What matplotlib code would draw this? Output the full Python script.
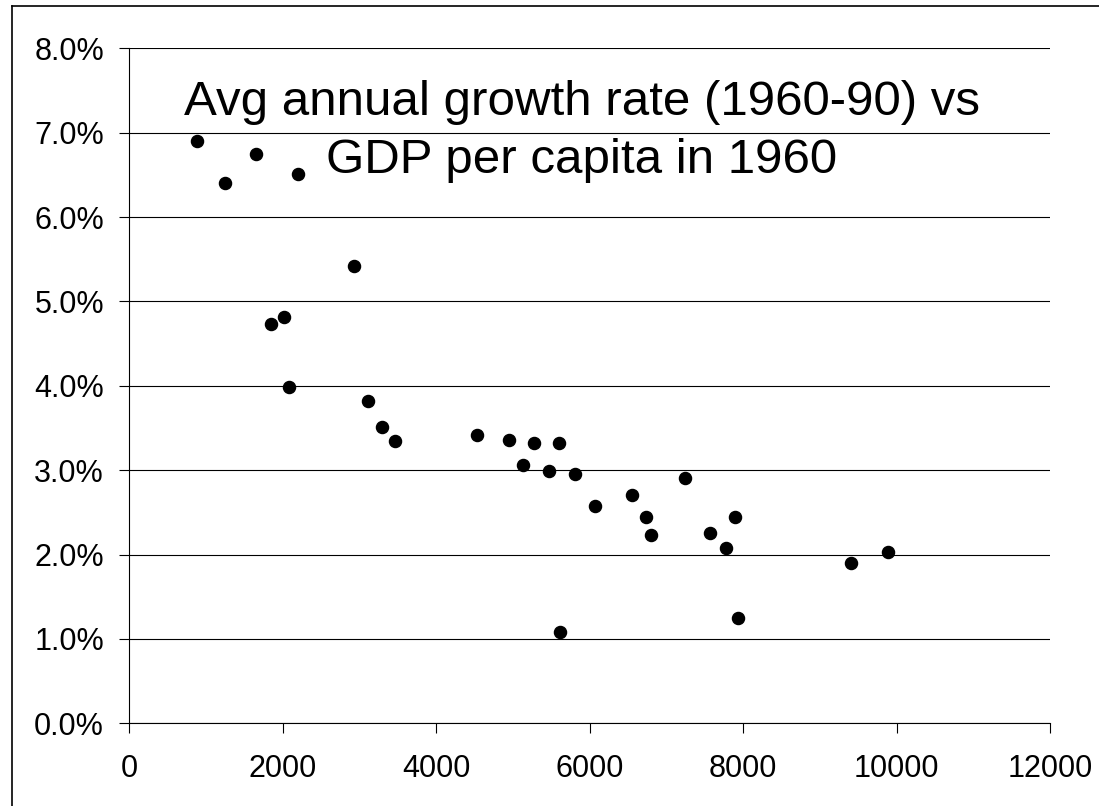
import numpy as np
import matplotlib
matplotlib.use("Agg")
import matplotlib.pyplot as plt
from matplotlib.ticker import FuncFormatter, MultipleLocator
from matplotlib.lines import Line2D

# GDP per capita in 1960 and average annual growth rate 1960-90 (%)
gdp_1960 = [880, 1250, 1655, 2205, 2930, 1855, 2020, 2080, 3120, 3300,
            3460, 4535, 4950, 5130, 5280, 5475, 5600, 5805, 5620, 6070,
            6560, 6740, 6800, 7250, 7570, 7775, 7900, 7940, 9405, 9895]
growth = [6.90, 6.40, 6.75, 6.51, 5.42, 4.73, 4.82, 3.99, 3.82, 3.51,
          3.34, 3.42, 3.36, 3.06, 3.32, 2.99, 3.32, 2.95, 1.08, 2.58,
          2.71, 2.44, 2.23, 2.91, 2.25, 2.08, 2.44, 1.25, 1.90, 2.03]

title_lines = ["Avg annual growth rate (1960-90) vs", "GDP per capita in 1960"]

plt.rcParams["font.family"] = ["Liberation Sans", "DejaVu Sans"]

fig = plt.figure(figsize=(10.99, 8.06), dpi=100)
ax = fig.add_axes([129 / 1099, 1 - 723.3 / 806, 921 / 1099, 675 / 806])

ax.plot(gdp_1960, growth, "o", color="black", ms=8.7, mec="black",
        zorder=3, clip_on=False)

ax.set_xlim(0, 12000)
ax.set_ylim(0, 8)
ax.xaxis.set_major_locator(MultipleLocator(2000))
ax.yaxis.set_major_locator(MultipleLocator(1))
ax.yaxis.set_major_formatter(FuncFormatter(lambda v, _: f"{v:.1f}%"))

ax.grid(axis="y", color="black", lw=0.8)
ax.set_axisbelow(True)
for side in ("top", "right"):
    ax.spines[side].set_visible(False)
for side in ("left", "bottom"):
    ax.spines[side].set_linewidth(0.8)

ax.tick_params(axis="both", direction="out", length=7, width=0.8,
               labelsize=22, colors="black")
ax.tick_params(axis="y", pad=11)
ax.tick_params(axis="x", pad=15)

fig.text(582 / 1099, 1 - 173 / 806, "\n".join(title_lines),
         ha="center", va="baseline", multialignment="center",
         fontsize=35.5, linespacing=1.37)

# outer frame
fig.add_artist(Line2D([11.5 / 1099, 11.5 / 1099], [0, 1 - 5.5 / 806],
                      transform=fig.transFigure, color="black", lw=1.2))
fig.add_artist(Line2D([11.5 / 1099, 1], [1 - 5.5 / 806, 1 - 5.5 / 806],
                      transform=fig.transFigure, color="black", lw=1.2))

fig.savefig("out.png", dpi=100)
